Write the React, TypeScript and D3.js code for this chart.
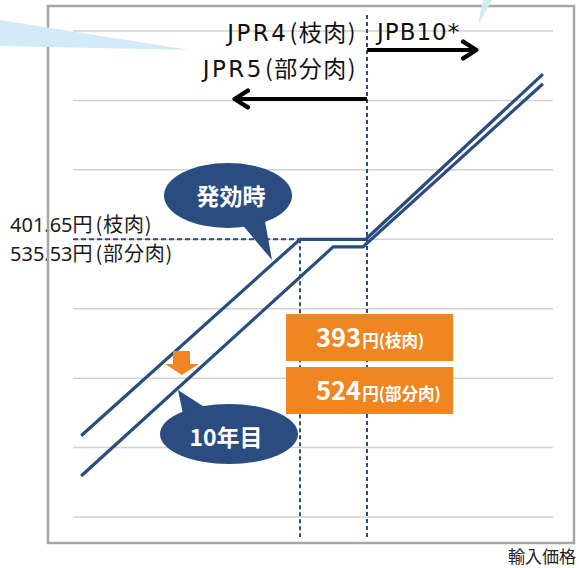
import React from "react";
import * as d3 from "d3";

// ---- data (abstract units: x = import price, y = price incl. tariff) ----
const gridValues = [0, 1, 2, 3, 4, 5, 6, 7];
const upperX = [1.7, 47.3, 61.0, 97.9];
const upperY = [1.17, 4.0, 4.0, 6.38];
const lowerX = [1.7, 54.2, 60.4, 97.9];
const lowerY = [0.59, 3.89, 3.89, 6.24];
const thresholdY = 4.0;
const thresholdX1 = 47.3;
const thresholdX2 = 61.25;
const leftLabelValues = ["401.65", "535.53"];
const leftLabelCuts = ["(枝肉)", "(部分肉)"];
const boxValues = ["393", "524"];
const boxUnits = ["円(枝肉)", "円(部分肉)"];
const xAxisTitle = "輸入価格";

const W = 579;
const H = 568;
const FONT = "'Noto Sans CJK JP', 'Noto Sans', sans-serif";
const LATIN = "'Noto Sans', 'Noto Sans CJK JP', sans-serif";
const WIDE = "'DejaVu Sans', 'Noto Sans', sans-serif";
const NAVY = "#2a4c7f";
const ORANGE = "#ef8621";
const LIGHTBLUE = "#d3eaf7";

export default function App() {
  const x = d3.scaleLinear().domain([0, 100]).range([73, 553]);
  const y = d3.scaleLinear().domain([0, 7]).range([517, 31]);
  const line = d3
    .line<[number, number]>()
    .x((d) => x(d[0]))
    .y((d) => y(d[1]));
  const upper: [number, number][] = upperX.map((v, i) => [v, upperY[i]]);
  const lower: [number, number][] = lowerX.map((v, i) => [v, lowerY[i]]);

  return (
    <svg
      width={W}
      height={H}
      style={{ position: "absolute", left: 0, top: 0 }}
      fontFamily={FONT}
    >
      <rect x={0} y={0} width={W} height={H} fill="#fff" />
      {/* gridlines */}
      {gridValues.map((g) => (
        <line
          key={g}
          x1={x(0)}
          x2={x(100)}
          y1={y(g)}
          y2={y(g)}
          stroke="#d2d2d2"
          strokeWidth={1.5}
        />
      ))}
      {/* left labels */}
      {leftLabelValues.map((v, i) => (
        <text key={v} x={10} y={232 + i * 29} fontSize={20} fill="#1a1a1a">
          <tspan fontFamily={LATIN}>{v}</tspan>
          <tspan>円</tspan>
          <tspan dx={3} fontSize={20} letterSpacing={0.8}>{leftLabelCuts[i]}</tspan>
        </text>
      ))}
      {/* frame */}
      <rect
        x={48}
        y={6}
        width={526}
        height={537}
        fill="none"
        stroke="#a6a6a6"
        strokeWidth={2.5}
      />
      {/* dashed reference lines */}
      <line
        x1={x(0)}
        x2={x(thresholdX1)}
        y1={y(thresholdY)}
        y2={y(thresholdY)}
        stroke={NAVY}
        strokeWidth={2}
        strokeDasharray="5,3"
      />
      <line
        x1={x(thresholdX1)}
        x2={x(thresholdX1)}
        y1={y(thresholdY)}
        y2={537}
        stroke={NAVY}
        strokeWidth={2}
        strokeDasharray="4,3"
      />
      <line
        x1={x(thresholdX2)}
        x2={x(thresholdX2)}
        y1={15}
        y2={537}
        stroke={NAVY}
        strokeWidth={2}
        strokeDasharray="4,3"
      />
      {/* price lines */}
      <path d={line(upper) || ""} fill="none" stroke={NAVY} strokeWidth={3.2} />
      <path d={line(lower) || ""} fill="none" stroke={NAVY} strokeWidth={3.2} />

      {/* top labels + arrows */}
      <text x={357} y={41} fontSize={23} textAnchor="end" fill="#111">
        <tspan fontFamily={WIDE} letterSpacing={2.5}>JPR4</tspan>
        <tspan fontSize={23} dx={1} letterSpacing={1.5}>(枝肉)</tspan>
      </text>
      <text x={357} y={77} fontSize={23} textAnchor="end" fill="#111">
        <tspan fontFamily={WIDE} letterSpacing={2.5}>JPR5</tspan>
        <tspan fontSize={23} dx={1} letterSpacing={1.5}>(部分肉)</tspan>
      </text>
      <text x={377} y={40} fontSize={23} fill="#111" fontFamily={WIDE} letterSpacing={1}>
        JPB10*
      </text>
      <defs>
        <marker
          id="ah"
          viewBox="0 0 10 10"
          refX={8.3}
          refY={5}
          markerWidth={5.5}
          markerHeight={5.5}
          orient="auto"
        >
          <path
            d="M2,1.2 L8,5 L2,8.8"
            fill="none"
            stroke="#000"
            strokeWidth={2}
            strokeLinecap="round"
            strokeLinejoin="round"
          />
        </marker>
      </defs>
      <line x1={x(thresholdX2)} x2={477} y1={50} y2={50} stroke="#000" strokeWidth={4} markerEnd="url(#ah)" />
      <line x1={x(thresholdX2)} x2={234} y1={99} y2={99} stroke="#000" strokeWidth={4} markerEnd="url(#ah)" />

      {/* callout 発効時 */}
      <polygon points="240,222 264,216 272,260" fill={NAVY} />
      <ellipse cx={228} cy={195.5} rx={64} ry={32.5} fill={NAVY} />
      <text x={231} y={205} fontSize={23} fontWeight="bold" fill="#fff" textAnchor="middle">
        発効時
      </text>

      {/* callout 10年目 */}
      <polygon points="183,414 178,390 212,412" fill={NAVY} />
      <ellipse cx={229} cy={434} rx={69} ry={30} fill={NAVY} />
      <text x={226} y={446} fontSize={23} fontWeight="bold" fill="#fff" textAnchor="middle">
        10年目
      </text>

      {/* orange down arrow */}
      <polygon points="173,351 190,351 190,364 199,364 182,375 165,364 173,364" fill={ORANGE} />

      {/* orange boxes */}
      {boxValues.map((v, i) => (
        <g key={v}>
          <rect x={286} y={314 + i * 53} width={167} height={47} fill={ORANGE} />
          <text x={316} y={347 + i * 53} fill="#fff" fontWeight="bold" fontSize={25.5}>
            {v}
            <tspan fontSize={16.5} dx={1}>{boxUnits[i]}</tspan>
          </text>
        </g>
      ))}

      {/* light blue callout tails from outside */}
      <polygon points="0,20 190,50 0,46" fill={LIGHTBLUE} />
      <polygon points="483,0 492,0 478,25" fill={LIGHTBLUE} />

      {/* x axis title */}
      <text x={576} y={563} fontSize={17} textAnchor="end" fill="#222">
        {xAxisTitle}
      </text>
    </svg>
  );
}
